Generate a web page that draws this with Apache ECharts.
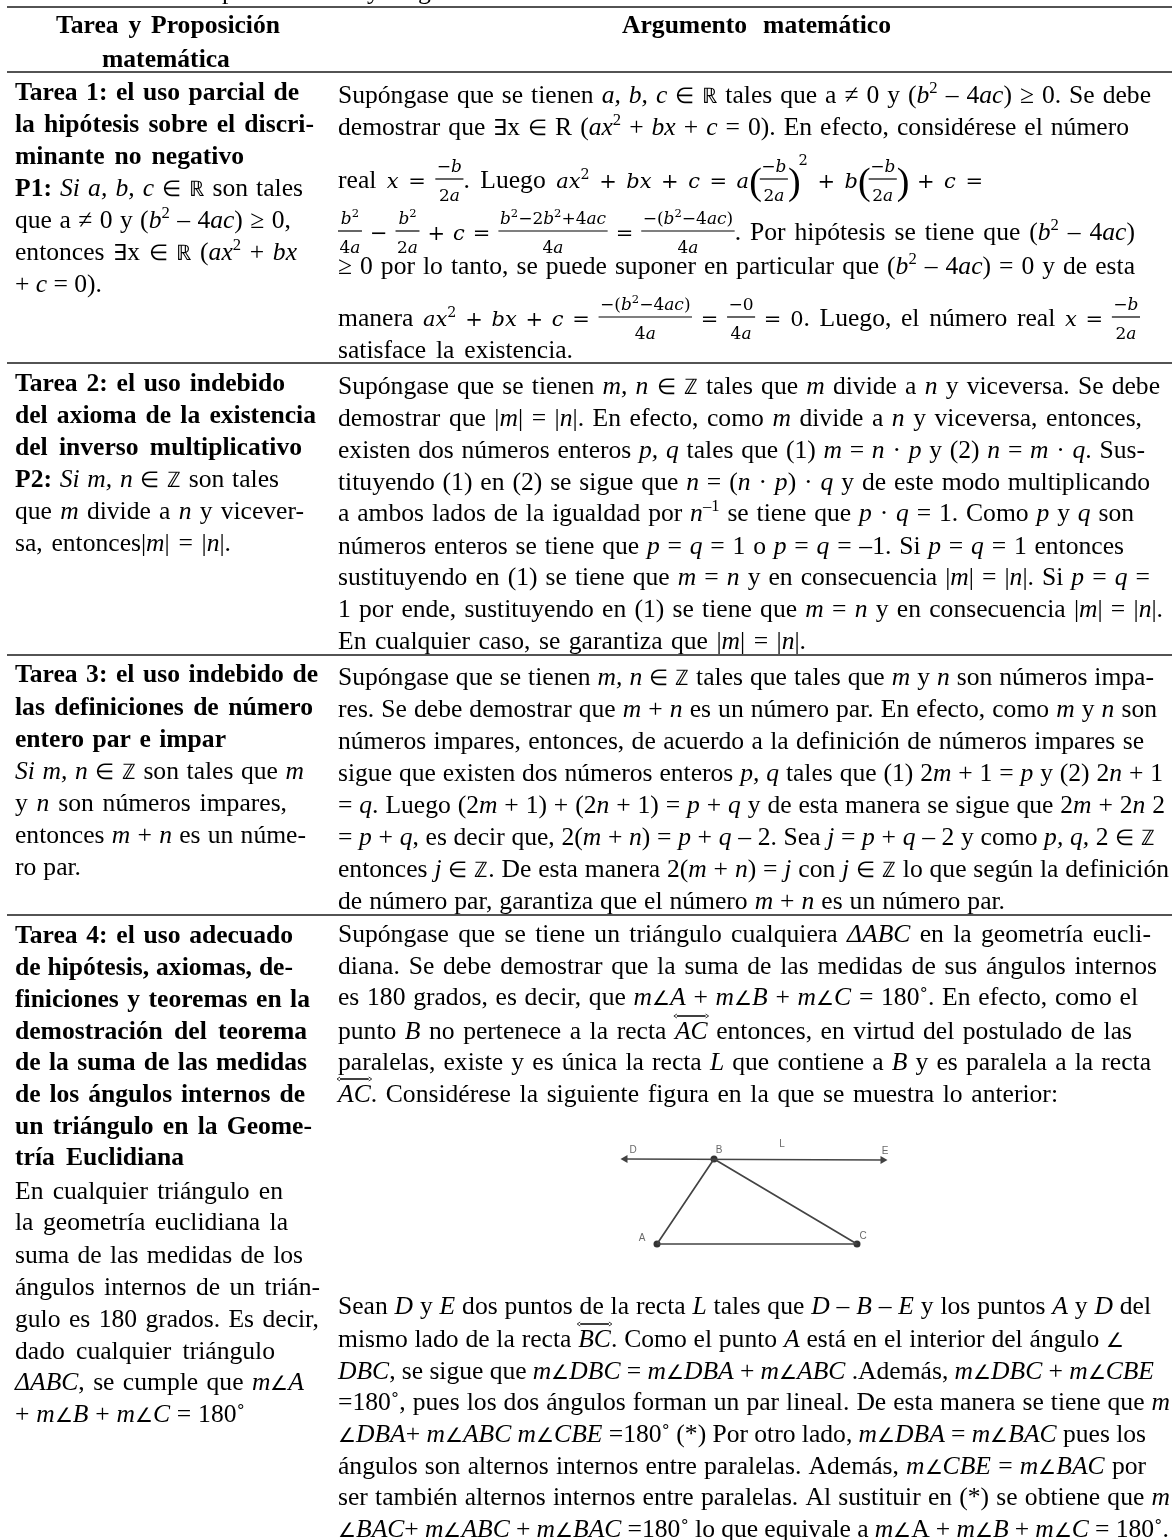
<!DOCTYPE html>
<html><head><meta charset="utf-8">
<style>html,body{margin:0;padding:0;background:#fff}#c{width:1172px;height:1540px}</style>
<script src="https://cdn.jsdelivr.net/npm/echarts@6/dist/echarts.min.js"></script>
</head><body><div id="c"></div>
<script>
// Markup: #bold#  _italic_  ^sup^  <over-arrow>  $math$  {num|den} fraction, [ ] tall brackets, @2 raised square
const headerCells = ['#Tarea y Proposición#', '#matemática#', '#Argumento matemático#'];
const clippedCaptionLetters = ['p', 'y', 'g'];

const row1Left = ['#Tarea 1: el uso parcial de#', '#la hipótesis sobre el discri-#', '#minante no negativo#',
  '#P1:# _Si a, b, c_ ∈ ℝ  son tales', 'que a ≠ 0 y (_b_^2^ – 4_ac_) ≥ 0,', 'entonces ∃x ∈ ℝ  (_ax_^2^ + _bx_', '+ _c_ = 0).'];
const row1Right = [
  'Supóngase que se tienen _a, b, c_ ∈ ℝ  tales que a ≠ 0 y (_b_^2^ – 4_ac_) ≥ 0. Se debe',
  'demostrar que ∃x ∈ R (_ax_^2^ + _bx_ + _c_ = 0). En efecto, considérese el número',
  'real $x = {−b|2a}$. Luego $ax^2 + bx + c = a[{−b|2a}]@2 + b[{−b|2a}] + c =$',
  '${b^2|4a} − {b^2|2a} + c = {b^2−2b^2+4ac|4a} = {−(b^2−4ac)|4a}$. Por hipótesis se tiene que (_b_^2^ – 4_ac_)',
  '≥ 0 por lo tanto, se puede suponer en particular que (_b_^2^ – 4_ac_) = 0 y de esta',
  'manera $ax^2 + bx + c = {−(b^2−4ac)|4a} = {−0|4a} = 0$. Luego, el número real $x = {−b|2a}$',
  'satisface la existencia.'];

const row2Left = ['#Tarea 2: el uso indebido#', '#del axioma de la existencia#', '#del inverso multiplicativo#',
  '#P2:# _Si m, n_ ∈ ℤ son tales', 'que _m_ divide a _n_ y vicever-', 'sa, entonces|_m_| = |_n_|.'];
const row2Right = [
  'Supóngase que se tienen _m, n_ ∈ ℤ tales que _m_ divide a _n_ y viceversa. Se debe',
  'demostrar que |_m_| = |_n_|. En efecto, como _m_ divide a _n_ y viceversa, entonces,',
  'existen dos números enteros _p, q_ tales que (1) _m_ = _n_ · _p_ y (2) _n_ = _m_ · _q_. Sus-',
  'tituyendo (1) en (2) se sigue que _n_ = (_n_ · _p_) · _q_ y de este modo multiplicando',
  'a ambos lados de la igualdad por _n_^–1^ se tiene que _p_ · _q_ = 1. Como _p_ y _q_ son',
  'números enteros se tiene que _p_ = _q_ = 1 o _p_ = _q_ = –1. Si _p_ = _q_ = 1 entonces',
  'sustituyendo en (1) se tiene que _m_ = _n_ y en consecuencia |_m_| = |_n_|. Si _p_ = _q_ =',
  '1 por ende, sustituyendo en (1) se tiene que _m_ = _n_ y en consecuencia |_m_| = |_n_|.',
  'En cualquier caso, se garantiza que |_m_| = |_n_|.'];

const row3Left = ['#Tarea 3: el uso indebido de#', '#las definiciones de número#', '#entero par e impar#',
  '_Si m, n_ ∈ ℤ son tales que _m_', 'y _n_ son números impares,', 'entonces _m_ + _n_ es un núme-', 'ro par.'];
const row3Right = [
  'Supóngase que se tienen _m, n_ ∈ ℤ tales que tales que _m_ y _n_ son números impa-',
  'res. Se debe demostrar que _m_ + _n_ es un número par. En efecto, como _m_ y _n_ son',
  'números impares, entonces, de acuerdo a la definición de números impares se',
  'sigue que existen dos números enteros _p, q_ tales que (1) 2_m_ + 1 = _p_ y (2) 2_n_ + 1',
  '= _q_. Luego (2_m_ + 1) + (2_n_ + 1) = _p_ + _q_ y de esta manera se sigue que 2_m_ + 2_n_ 2',
  '= _p_ + _q_, es decir que, 2(_m_ + _n_) = _p_ + _q_ – 2. Sea _j_ = _p_ + _q_ – 2 y como _p, q,_ 2 ∈ ℤ',
  'entonces _j_ ∈ ℤ. De esta manera 2(_m_ + _n_) = _j_ con _j_ ∈ ℤ lo que según la definición',
  'de número par, garantiza que el número _m_ + _n_ es un número par.'];

const row4Left = ['#Tarea 4: el uso adecuado#', '#de hipótesis, axiomas, de-#', '#finiciones y teoremas en la#',
  '#demostración del teorema#', '#de la suma de las medidas#', '#de los ángulos internos de#',
  '#un triángulo en la Geome-#', '#tría Euclidiana#', 'En cualquier triángulo en', 'la geometría euclidiana la',
  'suma de las medidas de los', 'ángulos internos de un trián-', 'gulo es 180 grados. Es decir,',
  'dado cualquier triángulo', '_ΔABC_, se cumple que _m∠A_', '+ _m∠B_ + _m∠C_ = 180˚'];
const row4RightTop = [
  'Supóngase que se tiene un triángulo cualquiera _ΔABC_ en la geometría eucli-',
  'diana. Se debe demostrar que la suma de las medidas de sus ángulos internos',
  'es 180 grados, es decir, que _m∠A_ + _m∠B_ + _m∠C_ = 180˚. En efecto, como el',
  'punto _B_ no pertenece a la recta <AC> entonces, en virtud del postulado de las',
  'paralelas, existe y es única la recta _L_ que contiene a _B_ y es paralela a la recta',
  '<AC>. Considérese la siguiente figura en la que se muestra lo anterior:'];
const row4RightBottom = [
  'Sean _D_ y _E_ dos puntos de la recta _L_ tales que _D_ – _B_ – _E_ y los puntos _A_ y _D_ del',
  'mismo lado de la recta <BC>. Como el punto _A_ está en el interior del ángulo ∠',
  '_DBC_, se sigue que _m∠DBC_ = _m∠DBA_ + _m∠ABC_ .Además, _m∠DBC_ + _m∠CBE_',
  '=180˚, pues los dos ángulos forman un par lineal. De esta manera se tiene que _m_',
  '_∠DBA_+ _m∠ABC m∠CBE_ =180˚ (*) Por otro lado, _m∠DBA_ = _m∠BAC_ pues los',
  'ángulos son alternos internos entre paralelas. Además, _m∠CBE_ = _m∠BAC_ por',
  'ser también alternos internos entre paralelas. Al sustituir en (*) se obtiene que _m_',
  '_∠BAC_+ _m∠ABC_ + _m∠BAC_ =180˚ lo que equivale a _m∠_A + _m∠B_ + _m∠C_ = 180˚.'];

// Figure: a triangle ABC with the parallel L through B (units of the figure's own axes)
const figPointNames = ['A', 'B', 'C', 'D', 'E'];
const figPointX = [57, 114, 257, 24, 284];
const figPointY = [16, 101, 16, 101, 100];
const figLabelNames = ['A', 'B', 'C', 'D', 'E', 'L'];
const figLabelX = [42, 119, 263, 33, 285, 182];
const figLabelY = [22, 110, 24, 110, 109, 116];

// ---- layout (separate from the text above) ----
const BODY = 25.6, SERIF = '"Liberation Serif"', MATHF = '"DejaVu Serif"', MATH = 21, FRAC = 17, DROP = 1.5;
const XL = 15, XR = 338;
const blocks = [
  {l: [headerCells[0]], x: 56, y: [31.5], r: [280]},
  {l: [headerCells[1]], x: 102, y: [65], r: [233]},
  {l: [headerCells[2]], x: 622, y: [31.5], r: [891]},
  {l: row1Left, x: XL, y: [98,130,162,194,226,258,290], r: [299,314,244,303,291,297,102]},
  {l: row1Right, x: XR, y: [101,133,186,238,272,324,356], r: [1151,1129,983,1135,1135,1140,573]},
  {l: row2Left, x: XL, y: [389,421,453,485,517,549], r: [285,316,302,279,304,231]},
  {l: row2Right, x: XR, y: [392,424,456,488,519,552,583,615,647], r: [1160,1142,1145,1150,1134,1124,1150,1163,806]},
  {l: row3Left, x: XL, y: [680,713,745,777,809,841,873], r: [318,313,226,304,287,306,81]},
  {l: row3Right, x: XR, y: [683,715,747,779,811,843,875,907], r: [1154,1157,1144,1163,1165,1155,1169,1005]},
  {l: row4Left, x: XL, y: [941,973,1005,1037,1068,1100,1132,1163,1197,1228,1261,1293,1325,1357,1388,1420],
    r: [293,293,310,307,307,305,312,184,283,288,303,320,319,275,304,245]},
  {l: row4RightTop, x: XR, y: [940,972,1003,1037,1068,1100], r: [1151,1157,1138,1132,1151,1058]},
  {l: row4RightBottom, x: XR, y: [1312,1345,1377,1408,1440,1472,1503,1535], r: [1151,1124,1154,1170,1146,1146,1170,1169]}
];
const ruleY = [7, 72, 363, 655, 915];

const ctx = document.createElement('canvas').getContext('2d');
function fontStr(bold, ital, size, fam) { return (ital ? 'italic ' : '') + (bold ? 'bold ' : '') + size + 'px ' + fam; }
function tw(t, f) { ctx.font = f; return ctx.measureText(t).width; }
function midShift(f) {
  ctx.font = f; ctx.textBaseline = 'alphabetic'; const a = ctx.measureText('x').actualBoundingBoxAscent;
  ctx.textBaseline = 'middle'; const m = ctx.measureText('x').actualBoundingBoxAscent; ctx.textBaseline = 'alphabetic';
  return a - m;
}
const shifts = {};
const els = [];
function drawText(t, x, base, f) {
  if (!(f in shifts)) shifts[f] = midShift(f);
  els.push({type: 'text', silent: true, x: 0, y: 0, style: {text: t, x: x, y: base - shifts[f], font: f, fill: '#000',
    align: 'left', verticalAlign: 'middle', textAlign: 'left', textVerticalAlign: 'middle'}});
}
// Symbols that come from a wider fallback face are set a little smaller, as in the reference
function wordAtom(word, bold, ital) {
  const parts = word.split(/([∠∈ℝℤ∃])/).filter(Boolean).map(p => {
    const sym = /^[∠∈ℝℤ∃]$/.test(p);
    const f = fontStr(bold, ital && !sym, sym ? BODY * (p === '∠' ? 0.78 : 0.84) : BODY, SERIF);
    return {p, f, w: tw(p, f)};
  });
  return {w: parts.reduce((a, c) => a + c.w, 0), draw: (x, b) => {
    let px = x; parts.forEach(q => { drawText(q.p, px, b, q.f); px += q.w; });
  }};
}
function textAtoms(t, bold, ital) {
  const out = [];
  t.split(/( +)/).forEach(p => {
    if (!p) return;
    if (/^ +$/.test(p)) out.push({space: true, w: tw(' ', fontStr(bold, ital, BODY, SERIF))});
    else out.push(wordAtom(p, bold, ital));
  });
  return out;
}
function mathAtoms(s, size) {
  const out = [], re = /\{([^|}]*)\|([^}]*)\}|\^(.)|@2|\[|\]| +|[a-zA-Z]+|[^a-zA-Z^@\[\]{ ]+/g;
  let m;
  while ((m = re.exec(s))) {
    const t = m[0];
    if (m[1] !== undefined) {
      const n = mathAtoms(m[1], FRAC), d = mathAtoms(m[2], FRAC);
      const nw = n.reduce((a, c) => a + c.w, 0), dw = d.reduce((a, c) => a + c.w, 0), w = Math.max(nw, dw) + 3;
      out.push({w, draw: (x, b) => {
        let nx = x + (w - nw) / 2; n.forEach(a => { a.draw && a.draw(nx, b - 15.5); nx += a.w; });
        let dx = x + (w - dw) / 2; d.forEach(a => { a.draw && a.draw(dx, b + 13); dx += a.w; });
        els.push({type: 'line', silent: true, shape: {x1: x, y1: b - 8.5, x2: x + w, y2: b - 8.5}, style: {stroke: '#000', lineWidth: 1.2}});
      }});
    } else if (m[3] !== undefined) {
      const f = fontStr(false, false, size * 0.68, MATHF), ch = m[3];
      out.push({w: tw(ch, f), draw: (x, b) => drawText(ch, x, b - size * 0.42, f)});
    } else if (t === '@2') {
      const f = fontStr(false, false, MATH * 0.7, MATHF);
      out.push({w: tw('2', f), draw: (x, b) => drawText('2', x, b - 23, f)});
    } else if (t === '[' || t === ']') {
      const f = fontStr(false, false, 38, SERIF), ch = t === '[' ? '(' : ')';
      out.push({w: tw(ch, f) - 2, draw: (x, b) => drawText(ch, x, b + 6, f)});
    } else if (/^ +$/.test(t)) {
      out.push({space: true, w: size * 0.26});
    } else {
      const f = fontStr(false, /^[a-zA-Z]/.test(t), size, MATHF);
      out.push({w: tw(t, f), draw: (x, b) => drawText(t, x, b, f)});
    }
  }
  return out;
}
function arrowAtom(t) {
  const f = fontStr(false, true, BODY, SERIF), w = tw(t, f);
  return {w, draw: (x, b) => {
    drawText(t, x, b, f);
    const y = b - 22.5, a = x - 1, e = x + w + 1;
    els.push({type: 'line', silent: true, shape: {x1: a + 3, y1: y, x2: e - 3, y2: y}, style: {stroke: '#000', lineWidth: 1.5}});
    els.push({type: 'polyline', silent: true, shape: {points: [[a + 3, y - 2], [a, y], [a + 3, y + 2]]}, style: {stroke: '#000', lineWidth: 0.8, fill: null}});
    els.push({type: 'polyline', silent: true, shape: {points: [[e - 3, y - 2], [e, y], [e - 3, y + 2]]}, style: {stroke: '#000', lineWidth: 0.8, fill: null}});
  }};
}
function parseLine(s) {
  const atoms = [], re = /#([^#]+)#|_([^_]+)_|\^([^^]+)\^|<([^>]+)>|\$([^$]+)\$|([^#_^<$]+)/g;
  let m;
  while ((m = re.exec(s))) {
    if (m[1] !== undefined) atoms.push(...textAtoms(m[1], true, false));
    else if (m[2] !== undefined) atoms.push(...textAtoms(m[2], false, true));
    else if (m[3] !== undefined) {
      const f = fontStr(false, false, BODY * 0.65, SERIF), ch = m[3];
      atoms.push({w: tw(ch, f), draw: (x, b) => drawText(ch, x, b - 9.5, f)});
    }
    else if (m[4] !== undefined) atoms.push(arrowAtom(m[4]));
    else if (m[5] !== undefined) atoms.push(...mathAtoms(m[5], MATH));
    else atoms.push(...textAtoms(m[6], false, false));
  }
  return atoms;
}

blocks.forEach(b => b.l.forEach((line, i) => {
  const atoms = parseLine(line), base = b.y[i] + DROP;
  const total = atoms.reduce((a, c) => a + c.w, 0), gaps = atoms.filter(a => a.space).length;
  const extra = gaps ? (b.r[i] - b.x - total) / gaps : 0;
  let x = b.x;
  atoms.forEach(a => { if (a.space) x += a.w + extra; else { a.draw(x, base); x += a.w; } });
}));
ruleY.forEach(y => els.push({type: 'line', silent: true, shape: {x1: 7, y1: y, x2: 1172, y2: y}, style: {stroke: '#1a1a1a', lineWidth: 1.5}}));
[222, 367, 418].forEach((x, i) => drawText(clippedCaptionLetters[i], x, -1, fontStr(false, false, BODY, SERIF)));

const pt = n => { const i = figPointNames.indexOf(n); return [figPointX[i], figPointY[i]]; };
const chart = echarts.init(document.getElementById('c'), null, {renderer: 'canvas'});
chart.setOption({
  animation: false,
  backgroundColor: '#fff',
  grid: {left: 600, top: 1120, width: 300, height: 140},
  xAxis: {type: 'value', min: 0, max: 300, show: false},
  yAxis: {type: 'value', min: 0, max: 140, show: false},
  series: [
    {type: 'line', symbol: 'none', lineStyle: {color: '#444', width: 1.7}, data: ['A', 'B', 'C', 'A'].map(pt)},
    {type: 'line', symbol: 'none', lineStyle: {color: '#444', width: 1.7}, data: ['D', 'E'].map(pt)},
    {type: 'scatter', symbol: 'circle', symbolSize: 7, itemStyle: {color: '#000'}, data: ['A', 'B', 'C'].map(pt)},
    {type: 'scatter', symbol: 'triangle', symbolSize: [8, 7], symbolRotate: 90, itemStyle: {color: '#111'}, data: [pt('D')]},
    {type: 'scatter', symbol: 'triangle', symbolSize: [8, 7], symbolRotate: -90, itemStyle: {color: '#111'}, data: [pt('E')]},
    {type: 'scatter', symbolSize: 0, silent: true,
      label: {show: true, position: 'inside', color: '#444', fontSize: 10, fontFamily: 'Liberation Sans', formatter: p => p.data[2]},
      data: figLabelNames.map((n, i) => [figLabelX[i], figLabelY[i], n])}
  ],
  graphic: {elements: els}
});
</script></body></html>
